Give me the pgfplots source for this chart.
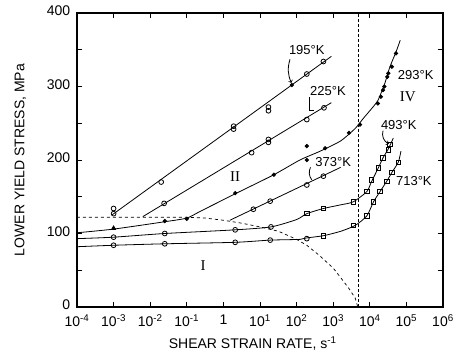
\documentclass[border=0pt]{standalone}
\usepackage{pgfplots}
\pgfplotsset{compat=1.18}
\usepackage{fontspec}
\setmainfont{Liberation Sans}
\newfontfamily\romfont{Liberation Serif}
\begin{document}
\fontsize{14}{16}\selectfont
\begin{tikzpicture}
\begin{axis}[
  scale only axis, width=366pt, height=294pt,
  xmode=log, xmin=1e-4, xmax=1e6, ymin=0, ymax=400,
  xtick={1e-4,1e-3,1e-2,1e-1,1,1e1,1e2,1e3,1e4,1e5,1e6},
  xticklabels={10\textsuperscript{-4},10\textsuperscript{-3},10\textsuperscript{-2},10\textsuperscript{-1},1,10\textsuperscript{1},10\textsuperscript{2},10\textsuperscript{3},10\textsuperscript{4},10\textsuperscript{5},10\textsuperscript{6}},
  xminorticks=false,
  ytick={0,50,...,400}, yticklabels={0,,100,,200,,300,,400},
  axis line style={line width=1.3pt},
  major tick length=5pt,
  tick style={line width=0.8pt, black},
  tick label style={font=\fontsize{14}{16}\selectfont},
  xticklabel style={yshift=-3pt},
  yticklabel style={xshift=-2pt, yshift=2pt},
  xlabel={SHEAR STRAIN RATE, s\textsuperscript{-1}},
  ylabel={LOWER YIELD STRESS, MPa},
  label style={font=\fontsize{15}{17}\selectfont},
  every axis x label/.style={at={(axis description cs:0.48,-0.125)},anchor=center},
  every axis y label/.style={at={(axis description cs:-0.155,0.5)},rotate=90,anchor=center},
  every axis plot/.append style={line width=0.8pt, black},
  mark size=2.4pt,
  clip=false,
]
% dashed boundary of region I
\addplot[dashed, line width=0.7pt] coordinates {(1e-4,122) (0.1,122) (0.32,121) (1,118) (3.2,114) (10,109) (32,103) (54,98) (100,92) (190,84) (400,71) (1000,53) (1600,40) (2800,24) (4000,12) (4700,0)};
\addplot[densely dashed, line width=0.7pt] coordinates {(4800,0) (4800,400)};
% 195 K
\addplot[no marks] coordinates {(8.9e-4,125) (890,341)};
\addplot[only marks, mark=o] coordinates {(1e-3,127) (1e-3,134) (2.0e-2,170) (1.9,242) (1.9,246) (17,267) (17,272) (190,317) (540,334)};
\addplot[only marks, mark=*, mark size=1.7pt] coordinates {(74,302)};
% 225 K
\addplot[no marks] coordinates {(6.3e-3,123) (890,278)};
\addplot[only marks, mark=o] coordinates {(2.4e-2,141) (5.9,210) (17,224) (17,228) (190,255) (560,271)};
% 293 K
\addplot[no marks, smooth, tension=0.4] coordinates {(1e-4,101) (1e-3,106) (2.5e-2,116) (0.1,121) (0.23,130) (2.1,154) (24,180) (123,200) (440,212) (1600,226) (4000,243) (6500,256) (1e4,267) (1.66e4,281) (2.6e4,305) (3.5e4,326) (5.2e4,347) (6.8e4,363)};
\addplot[only marks, mark=*, mark size=1.7pt] coordinates {(2.5e-2,117) (0.1,120) (2.1,155) (24,180) (190,200) (190,219) (600,216) (2700,237) (5400,248) (1.66e4,277) (2e4,286) (2.3e4,295) (2.5e4,300) (3e4,313) (3.2e4,318) (4e4,327) (5.2e4,345)};
\addplot[only marks, mark=triangle*, mark size=2.4pt] coordinates {(1e-3,107)};
% 373 K
\addplot[no marks] coordinates {(1.5,118) (1600,190)};
\addplot[only marks, mark=o] coordinates {(6.6,133) (19,144) (190,166) (540,178)};
% 493 K
\addplot[no marks, smooth, tension=0.4] coordinates {(1e-4,93) (1e-3,95) (2.5e-2,100) (2.1,105) (20,109) (100,119) (190,127) (540,134) (1600,139) (3500,143) (8300,157) (1.1e4,170) (1.7e4,189) (2.3e4,203) (3.2e4,215) (4.4e4,230)};
\addplot[only marks, mark=o] coordinates {(1e-3,95) (2.5e-2,100) (2.1,105) (20,109)};
\addplot[only marks, mark=square, mark size=2.2pt] coordinates {(190,127) (540,134) (3500,143) (8300,157) (1.1e4,173) (1.7e4,189) (2.3e4,203) (3.2e4,214) (3.5e4,221)};
% 713 K
\addplot[no marks, smooth, tension=0.4] coordinates {(1e-4,82) (1e-3,84) (2.5e-2,86) (2.1,88) (19,91) (123,92) (190,94) (540,97) (1600,103) (4000,111) (8300,124) (1.26e4,143) (1.9e4,157) (2.9e4,171) (4e4,183) (6e4,197) (7.1e4,212)};
\addplot[only marks, mark=o] coordinates {(1e-3,84) (2.5e-2,86) (2.1,88) (19,91) (190,93)};
\addplot[only marks, mark=square, mark size=2.2pt] coordinates {(540,97) (3500,111) (8300,124) (1.26e4,143) (1.9e4,157) (2.9e4,171) (4e4,183) (6e4,197)};
% labels
\node[font=\fontsize{13}{15}\selectfont] at (axis cs:190,349) {195°K};
\draw[->, line width=0.8pt] (axis cs:66,337) to[bend right=20] (axis cs:72,305);
\node[font=\fontsize{13}{15}\selectfont] at (axis cs:720,294) {225°K};
\draw[line width=0.8pt] (axis cs:230,286) -- (axis cs:230,268) -- (axis cs:300,268);
\node[font=\fontsize{13}{15}\selectfont] at (axis cs:1000,197) {373°K};
\draw[line width=0.8pt] (axis cs:240,190) to[bend right=30] (axis cs:260,173);
\node[font=\fontsize{13}{15}\selectfont] at (axis cs:1.8e5,315) {293°K};
\node[font=\romfont\fontsize{15}{17}\selectfont] at (axis cs:1.1e5,286) {IV};
\node[font=\fontsize{13}{15}\selectfont] at (axis cs:6.2e4,248) {493°K};
\draw[->, line width=0.8pt] (axis cs:2.3e4,240) to[bend right=40] (axis cs:3.3e4,222);
\node[font=\fontsize{13}{15}\selectfont] at (axis cs:1.6e5,172) {713°K};
\node[font=\romfont\fontsize{15}{17}\selectfont] at (axis cs:0.28,57) {I};
\node[font=\romfont\fontsize{15}{17}\selectfont] at (axis cs:2.1,178) {II};
\end{axis}
\path[use as bounding box] (-77pt,-48pt) rectangle (384pt,307pt);
\end{tikzpicture}
\end{document}
